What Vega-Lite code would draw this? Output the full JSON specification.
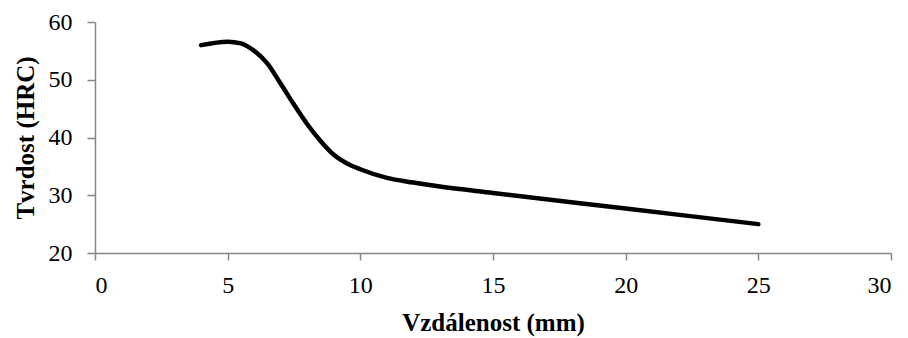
{
  "$schema": "https://vega.github.io/schema/vega-lite/v6.json",
  "width": 796,
  "height": 231,
  "autosize": {"type": "none"},
  "padding": {"left": 95, "top": 22, "right": 17, "bottom": 85},
  "background": "white",
  "config": {
    "view": {"stroke": null},
    "font": "Liberation Serif"
  },
  "data": {
    "values": [
      {"x": 4, "y": 56.0},
      {"x": 5, "y": 56.6},
      {"x": 5.5, "y": 56.3},
      {"x": 6, "y": 55.0},
      {"x": 6.5, "y": 52.8},
      {"x": 7, "y": 49.3},
      {"x": 7.5, "y": 45.7},
      {"x": 8, "y": 42.3},
      {"x": 8.5, "y": 39.4},
      {"x": 9, "y": 37.0},
      {"x": 9.5, "y": 35.5},
      {"x": 10, "y": 34.5},
      {"x": 11, "y": 33.0},
      {"x": 12, "y": 32.2},
      {"x": 13, "y": 31.5},
      {"x": 15, "y": 30.4},
      {"x": 20, "y": 27.7},
      {"x": 25, "y": 25.0}
    ]
  },
  "mark": {"type": "line", "color": "black", "strokeWidth": 4.5, "interpolate": "monotone", "strokeCap": "round", "strokeJoin": "round"},
  "encoding": {
    "x": {
      "field": "x", "type": "quantitative",
      "scale": {"domain": [0, 30], "nice": false, "zero": false},
      "axis": {
        "title": "Vzdálenost (mm)", "values": [0, 5, 10, 15, 20, 25, 30],
        "grid": false, "domainColor": "#868686", "tickColor": "#868686", "domainWidth": 1.5, "tickWidth": 1.5,
        "tickSize": 7, "labelPadding": 13, "labelFont": "Liberation Serif", "labelFontSize": 24, "labelColor": "black",
        "titleFont": "Liberation Serif", "titleFontSize": 25, "titleFontWeight": "bold", "titleColor": "black", "titlePadding": 13
      }
    },
    "y": {
      "field": "y", "type": "quantitative",
      "scale": {"domain": [20, 60], "nice": false, "zero": false},
      "axis": {
        "title": "Tvrdost (HRC)", "values": [20, 30, 40, 50, 60],
        "grid": false, "domainColor": "#868686", "tickColor": "#868686", "domainWidth": 1.5, "tickWidth": 1.5,
        "tickSize": 8, "labelPadding": 15, "labelFont": "Liberation Serif", "labelFontSize": 24, "labelColor": "black",
        "titleFont": "Liberation Serif", "titleFontSize": 25, "titleFontWeight": "bold", "titleColor": "black", "titlePadding": 10
      }
    }
  }
}
